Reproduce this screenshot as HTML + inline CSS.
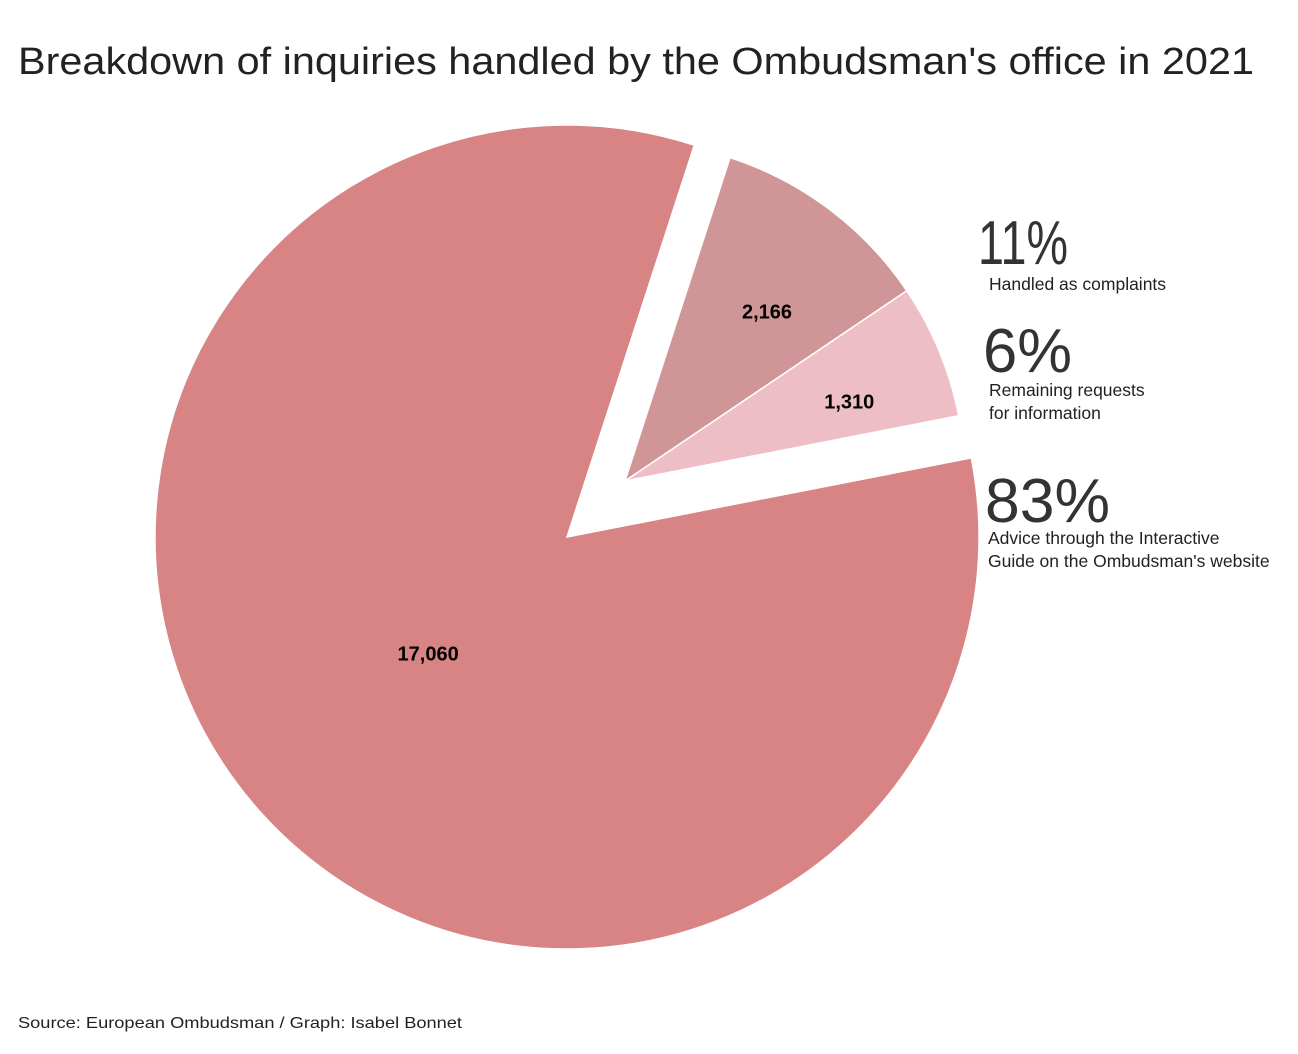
<!DOCTYPE html>
<html><head><meta charset="utf-8"><style>
body{margin:0;background:#fff;width:1298px;height:1054px;overflow:hidden;font-family:"Liberation Sans",sans-serif;}
svg{display:block}
</style></head><body>
<svg width="1298" height="1054">
<text x="18" y="74" font-size="38" fill="#222" textLength="1236" lengthAdjust="spacingAndGlyphs">Breakdown of inquiries handled by the Ombudsman's office in 2021</text>
<g id="slices"></g>
<g id="labels"></g>
<text x="18" y="1028" font-size="16" fill="#222" textLength="444" lengthAdjust="spacingAndGlyphs">Source: European Ombudsman / Graph: Isabel Bonnet</text>
</svg>
<script>
const categories=["Handled as complaints","Remaining requests for information","Advice through the Interactive Guide on the Ombudsman's website"];
const values=[2166,1310,17060];
const pctLabels=["11%","6%","83%"];
const valueLabels=["2,166","1,310","17,060"];
const colors=["#cf9597","#eebec6","#d88384"];
const centers=[[625,481],[625,481],[567,537]];
const radii=[340,340,412];
const labelR=[0.65,0.70,0.44];
const startDeg=18;
const total=values.reduce((a,b)=>a+b,0);
const NS="http://www.w3.org/2000/svg";
const g=document.getElementById('slices'),lg=document.getElementById('labels');
function pt(c,r,deg){const a=deg*Math.PI/180;return [c[0]+r*Math.sin(a),c[1]-r*Math.cos(a)];}
let ang=startDeg;
values.forEach((v,i)=>{
 const sw=v/total*360,c=centers[i],r=radii[i];
 const p1=pt(c,r,ang),p2=pt(c,r,ang+sw);
 const p=document.createElementNS(NS,'path');
 p.setAttribute('d',`M${c[0]},${c[1]}L${p1[0]},${p1[1]}A${r},${r} 0 ${sw>180?1:0} 1 ${p2[0]},${p2[1]}Z`);
 p.setAttribute('fill',colors[i]);p.setAttribute('stroke','#fff');p.setAttribute('stroke-width','1.5');
 
 
 g.appendChild(p);
 let mid=ang+sw/2+(i==0?3:(i==1?3:0));
 if(i==2) mid=230;
 const lp=pt(c,r*labelR[i],mid);
 const t=document.createElementNS(NS,'text');
 t.setAttribute('x',lp[0]);t.setAttribute('y',lp[1]+7);t.setAttribute('text-anchor','middle');
 t.setAttribute('font-size','20');t.setAttribute('font-weight','bold');t.textContent=valueLabels[i];
 
 
 lg.appendChild(t);
 ang+=sw;
});
const legend=[[978,264,[290],90,198],[983,372,[396,419],89,162],[985,522,[544,567],125,297]];
const lines=[["Handled as complaints"],["Remaining requests","for information"],["Advice through the Interactive","Guide on the Ombudsman's website"]];
legend.forEach((L,i)=>{
 const t=document.createElementNS(NS,'text');
 t.setAttribute('x',L[0]);t.setAttribute('y',L[1]);t.setAttribute('font-size','62');t.setAttribute('fill','#333');
 t.setAttribute('textLength',L[3]);t.setAttribute('lengthAdjust','spacingAndGlyphs');
 t.textContent=pctLabels[i];
 
 
 lg.appendChild(t);
 lines[i].forEach((s,j)=>{
  const d=document.createElementNS(NS,'text');
  d.setAttribute('x',L[0]+(i==2?3:(i==1?6:11)));d.setAttribute('y',L[2][j]);d.setAttribute('font-size','17.5');d.setAttribute('fill','#222');
  d.textContent=s;
  
  
  lg.appendChild(d);
 });
});
</script>
</body></html>
